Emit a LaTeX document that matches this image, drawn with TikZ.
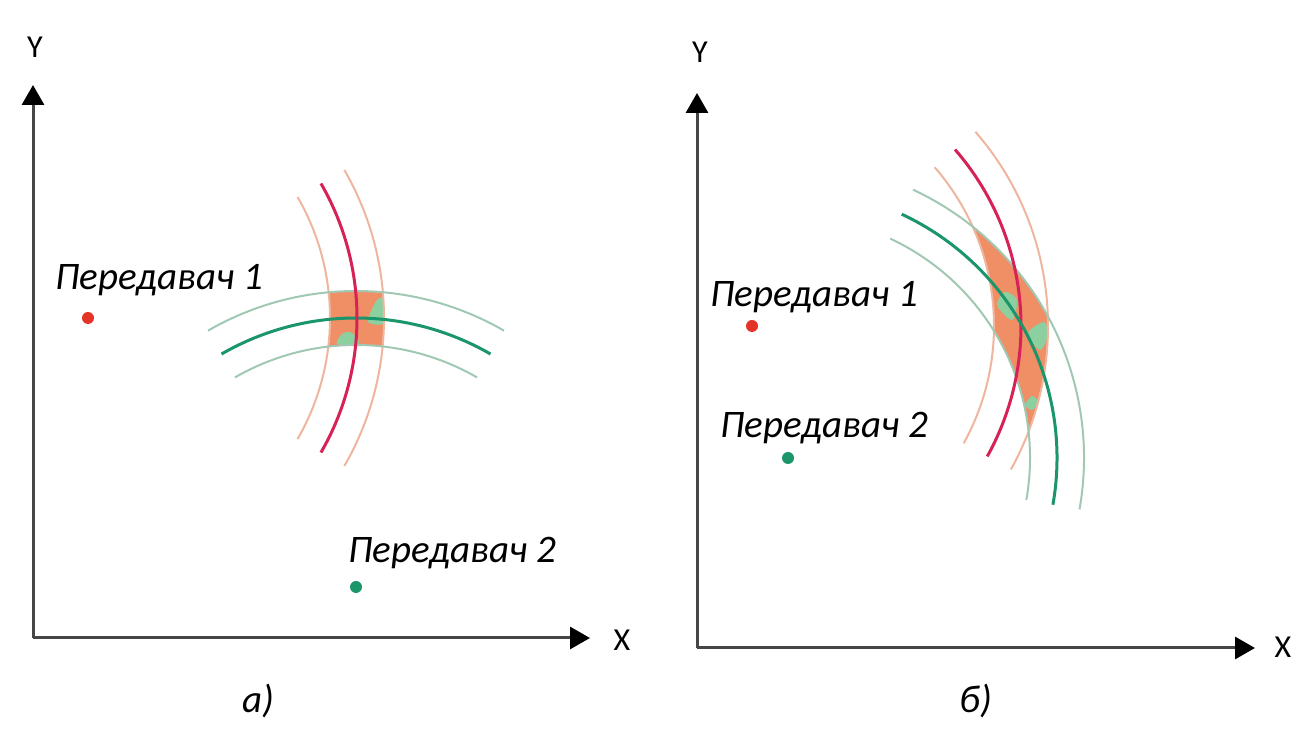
\documentclass[tikz,border=0pt]{standalone}
\usepackage{fontspec}
\setmainfont{Carlito}
\usetikzlibrary{arrows.meta}

\definecolor{redmain}{RGB}{214,34,86}
\definecolor{redthin}{RGB}{238,182,158}
\definecolor{greenmain}{RGB}{26,150,106}
\definecolor{greenthin}{RGB}{160,200,178}
\definecolor{zonefill}{RGB}{240,142,102}
\definecolor{zonegreen}{RGB}{140,208,160}
\definecolor{dotred}{RGB}{228,52,40}
\definecolor{axisgray}{RGB}{70,70,70}

\tikzset{
  axis/.style={line width=3pt, draw=axisgray, -{Triangle[length=20pt,width=22pt,color=black]}},
  mainarc/.style={line width=3pt},
  thinarc/.style={line width=2pt},
  txdot/.style={circle, inner sep=0pt, minimum size=12pt},
  txlabel/.style={font=\fontsize{39}{46}\selectfont\itshape, inner sep=0pt},
  axlabel/.style={font=\fontsize{32}{38}\selectfont, inner sep=0pt},
}

\begin{document}
\begin{tikzpicture}[x=1pt,y=1pt]
  \useasboundingbox (0,0) rectangle (1306,730);
  \def\rin{242}
  \def\rmid{269}
  \def\rout{296}

  % a) ---------------------------------------------------------
  \coordinate (oa) at (33,92);
  \coordinate (ya) at (33,645);
  \coordinate (xa) at (590,92);
  \coordinate (tx1a) at (88,412);
  \coordinate (tx2a) at (356,143);

  \begin{scope}[even odd rule]
    \clip (300,370) rectangle (420,470);
    \clip (tx1a) circle (\rout) (tx1a) circle (\rin);
    \fill[zonefill] (tx2a) circle (\rout) (tx2a) circle (\rin);
    \fill[zonegreen] plot[smooth cycle] coordinates {(368,408) (374,425) (378,431) (384,431) (385,407)};
    \fill[zonegreen] plot[smooth cycle] coordinates {(337,386) (342,396) (350,398) (357,392) (358,386)};
  \end{scope}

  \draw[thinarc, redthin] (tx1a) ++(30:\rin) arc (30:-30:\rin);
  \draw[thinarc, redthin] (tx1a) ++(30:\rout) arc (30:-30:\rout);
  \draw[thinarc, greenthin] (tx2a) ++(120:\rin) arc (120:60:\rin);
  \draw[thinarc, greenthin] (tx2a) ++(120:\rout) arc (120:60:\rout);
  \draw[mainarc, greenmain] (tx2a) ++(120:\rmid) arc (120:60:\rmid);
  \draw[mainarc, redmain] (tx1a) ++(30:\rmid) arc (30:-30:\rmid);

  \draw[axis] (oa) -- (ya);
  \draw[axis] (oa) -- (xa);
  \node[axlabel] (ylaba) at (35,683) {Y};
  \node[axlabel] (xlaba) at (622,90) {X};

  \node[txdot, fill=dotred] (t1a) at (tx1a) {};
  \node[txdot, fill=greenmain] (t2a) at (tx2a) {};
  \node[txlabel, anchor=base west] (l1a) at (55,440) {Передавач 1};
  \node[txlabel, anchor=base west] (l2a) at (348,167) {Передавач 2};
  \node[txlabel, anchor=base] (capa) at (258,17) {а)};

  % b) ---------------------------------------------------------
  \coordinate (ob) at (697,82);
  \coordinate (yb) at (697,637);
  \coordinate (xb) at (1255,82);
  \coordinate (tx1b) at (752,404);
  \coordinate (tx2b) at (788,272);

  \begin{scope}[even odd rule]
    \clip (940,280) rectangle (1080,520);
    \clip (tx1b) circle (\rout) (tx1b) circle (\rin);
    \fill[zonefill] (tx2b) circle (\rout) (tx2b) circle (\rin);
    \fill[zonegreen] plot[smooth cycle] coordinates {(997,425) (1005,438) (1017,430) (1012,410)};
    \fill[zonegreen] plot[smooth cycle] coordinates {(1028,397) (1044,408) (1048,395) (1040,380)};
    \fill[zonegreen] plot[smooth cycle] coordinates {(1025,325) (1032,334) (1038,328) (1032,320)};
  \end{scope}

  \draw[thinarc, redthin] (tx1b) ++(41:\rin) arc (41:-29:\rin);
  \draw[thinarc, redthin] (tx1b) ++(41:\rout) arc (41:-29:\rout);
  \draw[thinarc, greenthin] (tx2b) ++(65:\rin) arc (65:-10:\rin);
  \draw[thinarc, greenthin] (tx2b) ++(65:\rout) arc (65:-10:\rout);
  \draw[mainarc, redmain] (tx1b) ++(41:\rmid) arc (41:-29:\rmid);
  \draw[mainarc, greenmain] (tx2b) ++(65:\rmid) arc (65:-10:\rmid);

  \draw[axis] (ob) -- (yb);
  \draw[axis] (ob) -- (xb);
  \node[axlabel] (ylabb) at (700,678) {Y};
  \node[axlabel] (xlabb) at (1283,83) {X};

  \node[txdot, fill=dotred] (t1b) at (tx1b) {};
  \node[txdot, fill=greenmain] (t2b) at (tx2b) {};
  \node[txlabel, anchor=base west] (l1b) at (710,423) {Передавач 1};
  \node[txlabel, anchor=base west] (l2b) at (720,292) {Передавач 2};
  \node[txlabel, anchor=base] (capb) at (976,17) {б)};
\end{tikzpicture}
\end{document}
